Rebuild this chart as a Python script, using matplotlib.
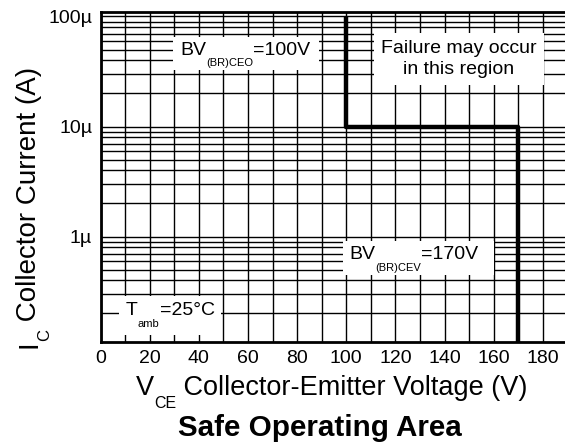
import matplotlib
matplotlib.use("Agg")
import matplotlib.pyplot as plt
from matplotlib.patches import Rectangle
from matplotlib.text import Annotation
from matplotlib.transforms import Bbox, IdentityTransform
from matplotlib.ticker import FixedLocator, LogLocator, MultipleLocator, NullFormatter

plt.rcParams['font.family'] = ['Liberation Sans', 'DejaVu Sans']

# SOA boundary (V, A)
soa_v = [100, 100, 170, 170]
soa_i = [1e-4, 1e-5, 1e-5, 1e-9]

ytick_vals = [1e-6, 1e-5, 1e-4]
ytick_labels = ['1µ', '10µ', '100µ']
xtick_vals = [0, 20, 40, 60, 80, 100, 120, 140, 160, 180]


def chain(parent, x, y, parts, transform, rot=False, zorder=7):
    """text built from pieces, each (string, size, drop in points)"""
    s0, fs0, _ = parts[0]
    if rot:
        first = parent.text(x, y, s0, fontsize=fs0, rotation=90, ha='right',
                            va='bottom', transform=transform, zorder=zorder)
    else:
        first = parent.text(x, y, s0, fontsize=fs0, ha='left', va='baseline',
                            transform=transform, zorder=zorder)
    out = [first]
    for s, fs, drop in parts[1:]:
        prev = out[-1]
        if rot:
            t = Annotation(s, xy=(1, 1), xycoords=(first, prev),
                           xytext=(drop, 0), textcoords='offset points',
                           fontsize=fs, rotation=90, ha='right', va='bottom')
        else:
            t = Annotation(s, xy=(1, 0), xycoords=(prev, first),
                           xytext=(0, -drop), textcoords='offset points',
                           fontsize=fs, ha='left', va='bottom')
        t.set_zorder(zorder)
        t.set_clip_on(False)
        parent.add_artist(t)
        out.append(t)
    return out


fig = plt.figure(figsize=(5.65, 4.42), dpi=100)
ax = fig.add_axes([0.178, 0.2262, 0.822, 0.7468])

ax.set_yscale('log')
ax.set_xlim(0, 189)
ax.set_ylim(1.1e-7, 1.1e-4)

ax.plot(soa_v, soa_i, color='black', lw=3.2, solid_capstyle='butt', zorder=5)

ax.xaxis.set_major_locator(FixedLocator(xtick_vals))
ax.xaxis.set_minor_locator(MultipleLocator(10))
ax.yaxis.set_major_locator(FixedLocator(ytick_vals))
ax.set_yticklabels(ytick_labels)
ax.yaxis.set_minor_locator(LogLocator(base=10, subs=range(2, 10)))
ax.yaxis.set_minor_formatter(NullFormatter())
ax.grid(True, which='both', color='black', lw=1)
ax.tick_params(which='both', length=0, labelsize=14, colors='black')
ax.tick_params(axis='x', pad=6)
ax.tick_params(axis='y', pad=6)

for s in ['left', 'bottom', 'top']:
    ax.spines[s].set_linewidth(2)
ax.spines['right'].set_visible(False)

# annotations inside the plot, with white boxes (pad: left, right, top, bottom in px)
labels = [
    (32.3, 4.49e-5, [('BV', 14, 0), ('(BR)CEO', 8, 7), ('=100V', 14, 0)], (7, 9, 5, 2)),
    (101.1, 6.26e-7, [('BV', 14, 0), ('(BR)CEV', 8, 7), ('=170V', 14, 0)], (6, 16, 5, 2)),
    (10.3, 1.94e-7, [('T', 14, 0), ('amb', 8, 7), ('=25°C', 14, 0)], (7, 6, 6, 6)),
]
chains = [(chain(ax, x, y, parts, ax.transData), pad) for x, y, parts, pad in labels]

ax.text(145.8, 4.1e-5, 'Failure may occur\nin this region', fontsize=14,
        ha='center', va='center', linespacing=1.25, zorder=7,
        bbox=dict(facecolor='white', edgecolor='none', pad=5))

# axis labels and title
chain(fig, 0.0745, 0.212, [('I', 20, 0), ('C', 12, 7), (' Collector Current (A)', 20, 0)],
      fig.transFigure, rot=True)
chain(fig, 0.2407, 0.1063, [('V', 19.5, 0), ('CE', 11.5, 7), (' Collector-Emitter Voltage (V)', 19.5, 0)],
      fig.transFigure)
fig.text(0.566, 0.0135, 'Safe Operating Area', fontsize=21.3, fontweight='bold',
         ha='center', va='baseline')

fig.canvas.draw()
renderer = fig.canvas.get_renderer()
for texts, (pl, pr, pt, pb) in chains:
    bb = Bbox.union([t.get_window_extent(renderer) for t in texts])
    ax.add_patch(Rectangle((bb.x0 - pl, bb.y0 - pb), bb.width + pl + pr,
                           bb.height + pt + pb, transform=IdentityTransform(),
                           facecolor='white', edgecolor='none', zorder=6,
                           clip_on=False))

fig.savefig('out.png', dpi=100)
